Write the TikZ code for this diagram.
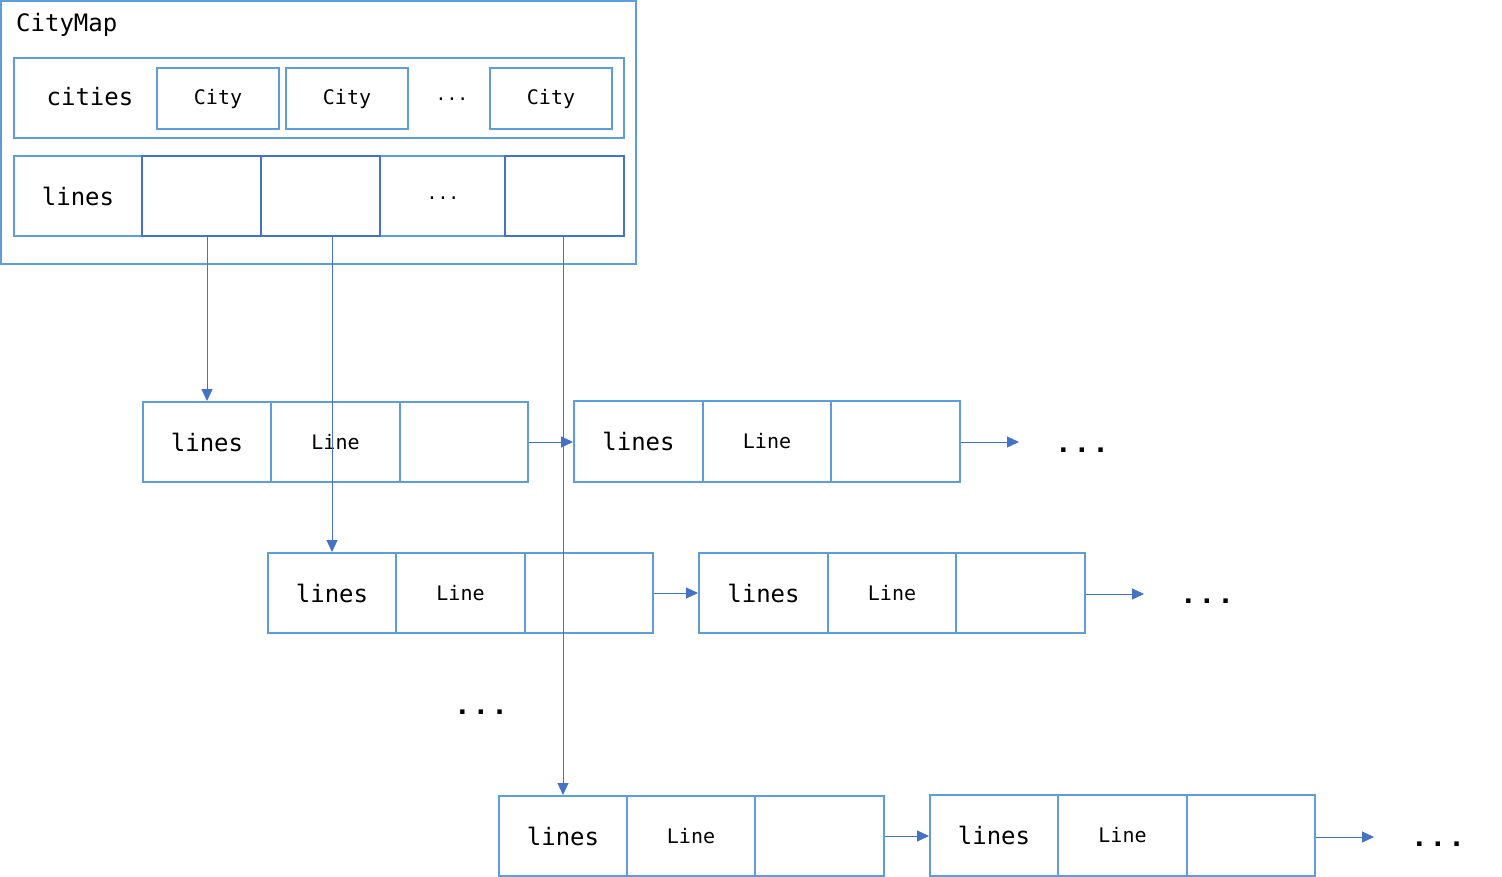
\documentclass[tikz,border=0pt]{standalone}
\usepackage{fontspec}
\setmonofont{DejaVu Sans Mono}
\newfontfamily\dotfont{Liberation Mono}
\usetikzlibrary{arrows.meta}
\definecolor{lb}{RGB}{95,157,217}
\definecolor{db}{RGB}{68,114,196}
\tikzset{
  cell/.style={draw=lb, line width=2pt, inner sep=0pt, font=\ttfamily\fontsize{24}{28}\selectfont},
  dcell/.style={draw=db, line width=2pt, inner sep=0pt},
  small/.style={font=\ttfamily\fontsize{20}{24}\selectfont},
  link/.style={draw=db, line width=1pt, -{Triangle[length=12pt,width=11pt]}},
  bigdots/.style={inner sep=0pt, font=\dotfont\bfseries\fontsize{31}{34}\selectfont},
  smalldots/.style={inner sep=0pt, font=\ttfamily\fontsize{18}{20}\selectfont}
}
\begin{document}
\begin{tikzpicture}[x=1pt,y=-1pt]
\useasboundingbox (0,0) rectangle (1502,877);
% CityMap outer box
\node[cell, minimum width=635pt, minimum height=263pt] (map) at (318.5,132.5) {};
\node[anchor=west, inner sep=0pt, font=\ttfamily\fontsize{24}{28}\selectfont] (maptitle) at (16,25) {CityMap};
% cities row
\node[cell, minimum width=610pt, minimum height=80pt] (cities) at (319,98) {};
\node[inner sep=0pt, font=\ttfamily\fontsize{24}{28}\selectfont] (citiestxt) at (90,97) {cities};
\node[cell, small, minimum width=122pt, minimum height=61pt] (c1) at (218,98.5) {City};
\node[cell, small, minimum width=122pt, minimum height=61pt] (c2) at (347,98.5) {City};
\node[smalldots] (cdots) at (452,99) {...};
\node[cell, small, minimum width=122pt, minimum height=61pt] (c3) at (551,98.5) {City};
% lines row
\node[cell, minimum width=610pt, minimum height=80pt] (lines) at (319,196) {};
\node[inner sep=0pt, font=\ttfamily\fontsize{24}{28}\selectfont] (linestxt) at (78,196) {lines};
\node[dcell, minimum width=119pt, minimum height=80pt] (l1) at (201.5,196) {};
\node[dcell, minimum width=119pt, minimum height=80pt] (l2) at (320.5,196) {};
\node[smalldots] (ldots) at (443,198) {...};
\node[dcell, minimum width=119pt, minimum height=80pt] (l3) at (564.5,196) {};
% row 1
\node[cell, minimum width=128pt, minimum height=80pt] (r1a) at (207,442) {lines};
\node[cell, small, minimum width=129pt, minimum height=80pt] (r1b) at (335.5,442) {Line};
\node[cell, minimum width=128pt, minimum height=80pt] (r1c) at (464,442) {};
\node[cell, minimum width=129pt, minimum height=81pt] (r1d) at (638.5,441.5) {lines};
\node[cell, small, minimum width=128pt, minimum height=81pt] (r1e) at (767,441.5) {Line};
\node[cell, minimum width=129pt, minimum height=81pt] (r1f) at (895.5,441.5) {};
\coordinate (r1end) at (1019,442);
\node[bigdots] (r1dots) at (1082,450) {...};
% row 2
\node[cell, minimum width=128pt, minimum height=80pt] (r2a) at (332,593) {lines};
\node[cell, small, minimum width=129pt, minimum height=80pt] (r2b) at (460.5,593) {Line};
\node[cell, minimum width=128pt, minimum height=80pt] (r2c) at (589,593) {};
\node[cell, minimum width=129pt, minimum height=80pt] (r2d) at (763.5,593) {lines};
\node[cell, small, minimum width=128pt, minimum height=80pt] (r2e) at (892,593) {Line};
\node[cell, minimum width=129pt, minimum height=80pt] (r2f) at (1020.5,593) {};
\coordinate (r2end) at (1144,594);
\node[bigdots] (r2dots) at (1207,601) {...};
% middle dots
\node[bigdots] (mdots) at (481,712) {...};
% row 3
\node[cell, minimum width=128pt, minimum height=80pt] (r3a) at (563,836) {lines};
\node[cell, small, minimum width=128pt, minimum height=80pt] (r3b) at (691,836) {Line};
\node[cell, minimum width=129pt, minimum height=80pt] (r3c) at (819.5,836) {};
\node[cell, minimum width=128pt, minimum height=81pt] (r3d) at (994,835.5) {lines};
\node[cell, small, minimum width=129pt, minimum height=81pt] (r3e) at (1122.5,835.5) {Line};
\node[cell, minimum width=128pt, minimum height=81pt] (r3f) at (1251,835.5) {};
\coordinate (r3end) at (1374,837);
\node[bigdots] (r3dots) at (1438,844) {...};
% vertical links
\draw[link] (l1.south -| r1a.north) -- (r1a.north);
\draw[link] (l2.south -| r2a.north) -- (r2a.north);
\draw[link] (l3.south -| r3a.north) -- (r3a.north);
% horizontal links
\draw[link] (r1c.east) -- (r1c.east -| r1d.west);
\draw[link] (r1f.east |- r1end) -- (r1end);
\draw[link] (r2c.east) -- (r2c.east -| r2d.west);
\draw[link] (r2f.east |- r2end) -- (r2end);
\draw[link] (r3c.east) -- (r3c.east -| r3d.west);
\draw[link] (r3f.east |- r3end) -- (r3end);
\end{tikzpicture}
\end{document}
